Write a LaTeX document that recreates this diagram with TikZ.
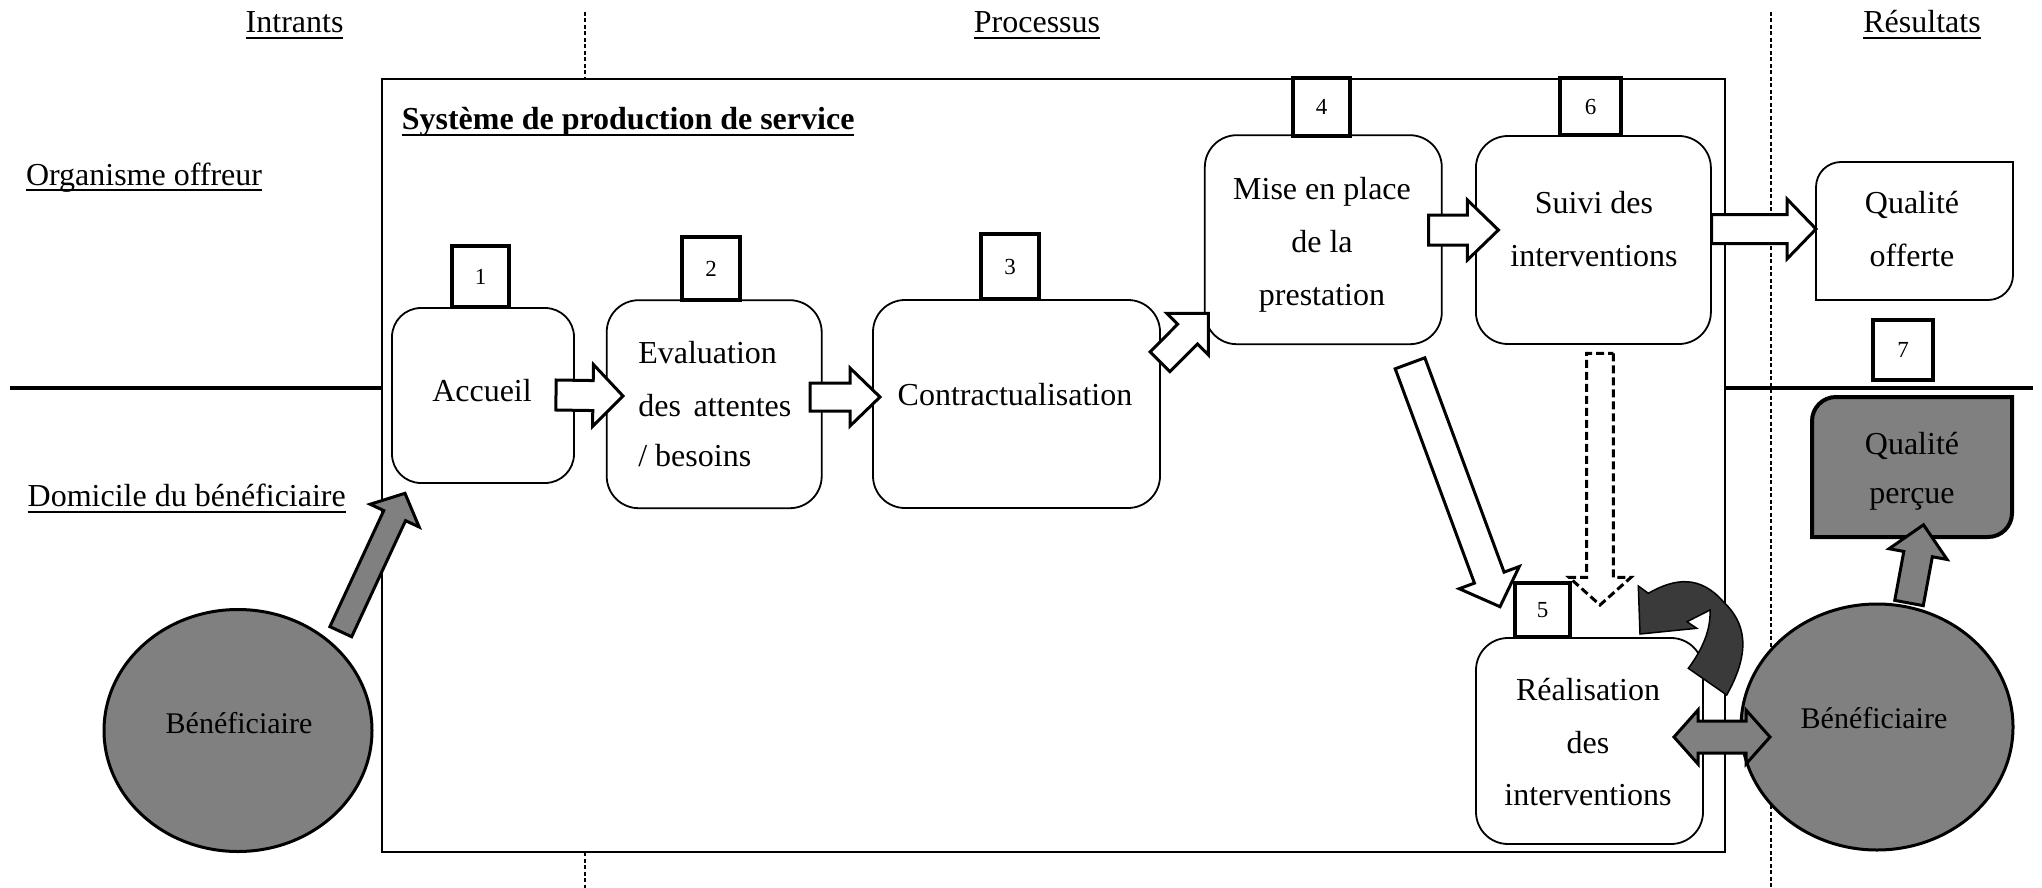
\documentclass[tikz,border=0pt]{standalone}
\usepackage{fontspec}
\setmainfont{Liberation Serif}
\usetikzlibrary{calc,shapes.geometric}
\definecolor{midgray}{HTML}{808080}
\definecolor{deepgray}{HTML}{3A3A3A}
\newcommand\ulx[1]{\setbox0=\hbox{#1}\rlap{\rule[-6.5pt]{\wd0}{2pt}}\box0}
\newcommand\blockarrow[6]{%
  \coordinate (baH) at ($(#3)!#6!(#2)$);
  \draw[#1] ($(#2)!#4!90:(#3)$) -- ($(baH)!#4!90:(#3)$) -- ($(baH)!#5!90:(#3)$) -- (#3)
    -- ($(baH)!#5!-90:(#3)$) -- ($(baH)!#4!-90:(#3)$) -- ($(#2)!#4!-90:(#3)$) -- cycle;
}
\begin{document}
\begin{tikzpicture}[x=1pt,y=-1pt,
  every node/.style={inner sep=0pt, outer sep=0pt},
  txt/.style={font=\fontsize{32}{38}\selectfont, anchor=base},
  stepbox/.style={draw=black, line width=1.8pt, fill=white, rounded corners=32pt},
  numbox/.style={draw=black, line width=3.5pt, fill=white, font=\fontsize{23}{26}\selectfont},
  warrow/.style={draw=black, line width=3pt, fill=white, line join=miter, miter limit=10},
  darrow/.style={warrow, dash pattern=on 8pt off 4pt},
  garrow/.style={draw=black, line width=3pt, fill=midgray, line join=miter, miter limit=10},
  sep/.style={draw=black, line width=3.5pt},
  vdash/.style={draw=black, line width=1.3pt, dash pattern=on 4pt off 2.5pt},
  bene/.style={ellipse, draw=black, line width=3pt, fill=midgray}
]
\useasboundingbox (0,0) rectangle (2042,888);

% dashed column separators
\coordinate (d1a) at (585,12); \coordinate (d1b) at (585,79);
\coordinate (d1c) at (585,852); \coordinate (d1d) at (585,888);
\coordinate (d2a) at (1771,12); \coordinate (d2b) at (1771,888);
\draw[vdash] (d1a) -- (d1b);
\draw[vdash] (d1c) -- (d1d);
\draw[vdash] (d2a) -- (d2b);

% main system box
\node[draw=black, line width=2pt, minimum width=1343pt, minimum height=773pt] (sys) at (1053.5,465.5) {};

% horizontal separators
\coordinate (hl) at (10,388); \coordinate (hr) at (2033,388);
\draw[sep] (hl) -- (hl -| sys.west);
\draw[sep] (hr -| sys.east) -- (hr);

% step boxes
\node[stepbox, rounded corners=29pt, minimum width=182pt, minimum height=175pt] (accueil) at (483,395.5) {};
\node[stepbox, minimum width=215pt, minimum height=208pt] (eval) at (714.2,404.2) {};
\node[stepbox, minimum width=287pt, minimum height=208pt] (contr) at (1016.5,404) {};
\node[stepbox, minimum width=237pt, minimum height=209pt] (mise) at (1323.3,239.7) {};
\node[stepbox, minimum width=235pt, minimum height=208pt] (suivi) at (1593.4,240) {};
\node[stepbox, minimum width=227pt, minimum height=206pt] (real) at (1589.5,741) {};

% numbered boxes
\node[numbox, minimum width=57pt, minimum height=61pt] (n1) at (480.5,276.5) {1};
\node[numbox, minimum width=58pt, minimum height=63pt] (n2) at (711,268.5) {2};
\node[numbox, minimum width=58pt, minimum height=65pt] (n3) at (1010,266.5) {3};
\node[numbox, minimum width=57pt, minimum height=58pt] (n4) at (1321.5,107) {4};
\node[numbox, minimum width=55pt, minimum height=54pt] (n5) at (1542.5,610) {5};
\node[numbox, minimum width=61pt, minimum height=57pt] (n6) at (1590.5,106.5) {6};
\node[numbox, minimum width=60pt, minimum height=60pt] (n7) at (1903,350) {7};

% result boxes
\draw[draw=black, line width=1.8pt, fill=white]
  (1816,187) .. controls (1816,173.2) and (1827.2,162) .. (1841,162) -- (2013,162) -- (2013,275)
  .. controls (2013,288.8) and (2001.8,300) .. (1988,300) -- (1816,300) -- cycle;
\draw[draw=black, line width=4pt, fill=midgray]
  (1812,421) .. controls (1812,407.7) and (1822.7,397) .. (1836,397) -- (2012,397) -- (2012,513)
  .. controls (2012,526.3) and (2001.3,537) .. (1988,537) -- (1812,537) -- cycle;

% beneficiaries
\node[bene, minimum width=268pt, minimum height=242pt] (b1) at (238,730.5) {};
\node[bene, minimum width=272pt, minimum height=246pt] (b2) at (1877,727) {};

% white block arrows
\coordinate (a1t) at (556,395); \coordinate (a1h) at (623,396);
\blockarrow{warrow}{a1t}{a1h}{15pt}{31pt}{30pt}
\coordinate (a2t) at (810,397); \coordinate (a2h) at (880,397);
\blockarrow{warrow}{a2t}{a2h}{14pt}{29pt}{30pt}
\coordinate (a3t) at (1160,361.7); \coordinate (a3h) at (1208.3,313.3);
\blockarrow{warrow}{a3t}{a3h}{14pt}{29.5pt}{29.4pt}
\coordinate (a4t) at (1428.7,230); \coordinate (a4h) at (1498.4,230);
\blockarrow{warrow}{a4t}{a4h}{15pt}{30pt}{31pt}
\coordinate (a5t) at (1711.5,229); \coordinate (a5h) at (1816,229);
\blockarrow{warrow}{a5t}{a5h}{14.5pt}{30pt}{29pt}
\coordinate (a6t) at (1410,363.3); \coordinate (a6h) at (1500,606.7);
\blockarrow{warrow}{a6t}{a6h}{15.8pt}{32pt}{31pt}
\coordinate (a7t) at (1600,353.3); \coordinate (a7h) at (1600,605);
\blockarrow{darrow}{a7t}{a7h}{13.3pt}{31pt}{27.7pt}

% gray block arrows
\coordinate (g1t) at (340.8,631.7); \coordinate (g1h) at (405,493.3);
\blockarrow{garrow}{g1t}{g1h}{12pt}{27pt}{24.6pt}
\coordinate (g3t) at (1909,603); \coordinate (g3h) at (1923.5,524.8);
\blockarrow{garrow}{g3t}{g3h}{14.5pt}{29.5pt}{29.8pt}
\coordinate (g2l) at (1674,737); \coordinate (g2r) at (1770,737);
\draw[garrow] (g2l) -- (1698,710) -- (1698,721) -- (1746,721) -- (1746,710) -- (g2r)
  -- (1746,764) -- (1746,753) -- (1698,753) -- (1698,764) -- cycle;

% dark curved arrow
\draw[draw=black, line width=1.5pt, fill=deepgray, line join=miter]
  (1638.3,586) -- (1648.3,593.3) .. controls (1675,578) and (1700,575) .. (1723.3,601.7)
  .. controls (1745,622) and (1752,650) .. (1726.7,695) -- (1688.3,668.3)
  .. controls (1702,650) and (1711,630) .. (1710,610) -- (1687,621.7) -- (1696.7,628.3)
  -- (1640,634) -- cycle;

% texts
\node[txt] (intr) at (294.6,33) {\ulx{Intrants}};
\node[txt] (proc) at (1037,33) {\ulx{Processus}};
\node[txt] (resu) at (1922,33) {\ulx{Résultats}};
\node[txt, anchor=base west] (org) at (26,185) {\ulx{Organisme offreur}};
\node[txt, anchor=base west] (dom) at (27.7,506.6) {\ulx{Domicile du bénéficiaire}};
\node[txt, anchor=base west, font=\bfseries\fontsize{32}{38}\selectfont] (sps) at (401.8,130) {\ulx{Système de production de service}};

\node[txt] (t-acc) at (482,401.7) {Accueil};
\node[txt, anchor=base west] (t-ev1) at (638.3,363.3) {Evaluation};
\node[txt, anchor=base west] (t-ev2) at (638.3,416.7) {\makebox[153pt][s]{des attentes}};
\node[txt, anchor=base west] (t-ev3) at (638.3,466.7) {/ besoins};
\node[txt] (t-con) at (1015,405) {Contractualisation};
\node[txt] (t-mi1) at (1322,199) {Mise en place};
\node[txt] (t-mi2) at (1322,252) {de la};
\node[txt] (t-mi3) at (1322,305) {prestation};
\node[txt] (t-su1) at (1594,213.3) {Suivi des};
\node[txt] (t-su2) at (1594,266.7) {interventions};
\node[txt] (t-re1) at (1588,700) {Réalisation};
\node[txt] (t-re2) at (1588,753.5) {des};
\node[txt] (t-re3) at (1588,805) {interventions};
\node[txt] (t-qo1) at (1912,213.3) {Qualité};
\node[txt] (t-qo2) at (1912,266.7) {offerte};
\node[txt] (t-qp1) at (1912,454) {Qualité};
\node[txt] (t-qp2) at (1912,503) {perçue};
\node[txt, font=\fontsize{30}{36}\selectfont] (t-b1) at (239,733.5) {Bénéficiaire};
\node[txt, font=\fontsize{30}{36}\selectfont] (t-b2) at (1874,728.6) {Bénéficiaire};
\end{tikzpicture}
\end{document}
